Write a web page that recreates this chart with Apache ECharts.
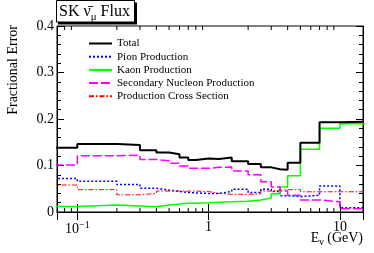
<!DOCTYPE html>
<html>
<head>
<meta charset="utf-8">
<script src="https://cdn.jsdelivr.net/npm/echarts@6/dist/echarts.min.js"></script>
<style>html,body{margin:0;padding:0;background:#fff;}#c{width:374px;height:253px;}</style>
</head>
<body>
<div id="c"></div>
<script>
// Bin edges in GeV (first bin 0-0.1 starts off-scale on the log axis)
var binEdges = [0.01, 0.1, 0.2, 0.3, 0.4, 0.5, 0.6, 0.7, 0.8, 1.0, 1.2, 1.5, 2.0, 2.5, 3.0, 3.5, 4.0, 5.0, 7.0, 10.0, 30.0];
var seriesNames = ['Total', 'Pion Production', 'Kaon Production', 'Secondary Nucleon Production', 'Production Cross Section'];
var totalErr     = [0.138, 0.146, 0.144, 0.133, 0.128, 0.124, 0.117, 0.112, 0.115, 0.114, 0.117, 0.109, 0.103, 0.096, 0.092, 0.091, 0.106, 0.149, 0.193, 0.196];
var pionErr      = [0.072, 0.066, 0.059, 0.051, 0.047, 0.044, 0.042, 0.041, 0.040, 0.040, 0.044, 0.049, 0.042, 0.049, 0.044, 0.035, 0.033, 0.036, 0.056, 0.009];
var kaonErr      = [0.012, 0.015, 0.013, 0.0115, 0.015, 0.017, 0.019, 0.019, 0.020, 0.021, 0.022, 0.023, 0.026, 0.030, 0.039, 0.054, 0.078, 0.135, 0.180, 0.190];
var secondaryErr = [0.101, 0.121, 0.122, 0.113, 0.110, 0.105, 0.099, 0.094, 0.094, 0.096, 0.097, 0.088, 0.080, 0.065, 0.054, 0.045, 0.036, 0.026, 0.022, 0.007];
var xsecErr      = [0.058, 0.048, 0.037, 0.040, 0.045, 0.045, 0.045, 0.045, 0.044, 0.040, 0.038, 0.038, 0.039, 0.045, 0.047, 0.048, 0.048, 0.0435, 0.0435, 0.0435];
var yTicks = [0, 0.1, 0.2, 0.3, 0.4];
var xMajorTicks = [0.1, 1, 10];
var xMin = 0.07, xMax = 15;

function hist(vals) {
  var d = [];
  for (var i = 0; i < vals.length; i++) d.push([binEdges[i], vals[i]]);
  d.push([binEdges[binEdges.length - 1], vals[vals.length - 1]]);
  return d;
}
// log-axis minor tick positions (k * 10^n)
var xMinorTicks = [];
[0.01, 0.1, 1, 10].forEach(function (dec) {
  for (var k = 2; k <= 9; k++) {
    var v = +(k * dec).toPrecision(6);
    if (v > xMin && v < xMax) xMinorTicks.push([v, 0]);
  }
});

var serif = '"Liberation Serif","DejaVu Serif",serif';
var chart = echarts.init(document.getElementById('c'), null, {renderer: 'canvas'});

function lineSeries(name, vals, color, width, type, z) {
  return {
    name: name, type: 'line', step: 'end', symbol: 'none', z: z,
    data: hist(vals), clip: true, animation: false,
    lineStyle: {color: color, width: width, type: type},
    itemStyle: {color: color}
  };
}

var xLabelFmt = function (v) {
  if (Math.abs(v - 0.1) < 1e-9) return '{b|10}{s|\u22121}';
  if (Math.abs(v - 1) < 1e-9) return '{b|1}';
  if (Math.abs(v - 10) < 1e-9) return '{b|10}';
  return '';
};

var option = {
  animation: false,
  backgroundColor: '#fff',
  grid: {left: 57, right: 11, top: 26, bottom: 41, show: true, borderColor: '#000', borderWidth: 1},
  legend: {
    data: seriesNames, orient: 'vertical', left: 83, top: 33,
    itemWidth: 23, itemHeight: 11, itemGap: 2.2,
    itemStyle: {opacity: 0},
    textStyle: {fontFamily: serif, fontSize: 11, color: '#000'}
  },
  xAxis: [{
    type: 'log', logBase: 10, min: xMin, max: xMax, position: 'bottom',
    axisLine: {show: true, lineStyle: {color: '#000', width: 1}},
    axisTick: {show: true, inside: true, length: 8, lineStyle: {color: '#000'}},
    minorTick: {show: false},
    splitLine: {show: false},
    axisLabel: {
      showMinLabel: false, showMaxLabel: false, margin: 8, color: '#000',
      formatter: xLabelFmt,
      rich: {b: {fontFamily: serif, fontSize: 14, color: '#000'},
             s: {fontFamily: serif, fontSize: 10, color: '#000', verticalAlign: 'bottom', padding: [0, 0, 8, 0]}}
    }
  }, {
    type: 'log', logBase: 10, min: xMin, max: xMax, position: 'top',
    axisLine: {show: true, lineStyle: {color: '#000', width: 1}},
    axisTick: {show: true, inside: true, length: 8, lineStyle: {color: '#000'}},
    axisLabel: {show: false}, splitLine: {show: false}
  }],
  yAxis: [{
    type: 'value', min: 0, max: 0.4, interval: 0.1, position: 'left',
    axisLine: {show: true, lineStyle: {color: '#000', width: 1}},
    axisTick: {show: true, inside: true, length: 7, lineStyle: {color: '#000'}},
    minorTick: {show: true, splitNumber: 5, length: 4, lineStyle: {color: '#000'}},
    splitLine: {show: false},
    axisLabel: {margin: 3, color: '#000', fontFamily: serif, fontSize: 14,
      formatter: function (v) { return String(+v.toFixed(2)); }}
  }, {
    type: 'value', min: 0, max: 0.4, interval: 0.1, position: 'right',
    axisLine: {show: true, lineStyle: {color: '#000', width: 1}},
    axisTick: {show: true, inside: true, length: 7, lineStyle: {color: '#000'}},
    minorTick: {show: true, splitNumber: 5, length: 4, lineStyle: {color: '#000'}},
    splitLine: {show: false}, axisLabel: {show: false}
  }],
  series: [
    lineSeries(seriesNames[0], totalErr, '#000000', 2, 'solid', 5),
    lineSeries(seriesNames[1], pionErr, '#0000ff', 1.5, [2, 2], 4),
    lineSeries(seriesNames[2], kaonErr, '#00ff00', 1.5, 'solid', 4),
    lineSeries(seriesNames[3], secondaryErr, '#ff00ff', 1.5, [9, 3], 4),
    lineSeries(seriesNames[4], xsecErr, '#ff0000', 1, [5, 2, 1.5, 2], 4),
    {
      type: 'custom', name: 'minorTicks', data: xMinorTicks, z: 6, silent: true,
      encode: {x: 0, y: 1},
      renderItem: function (params, api) {
        var v = api.value(0);
        var b = api.coord([v, 0]);
        var t = api.coord([v, 0.4]);
        return {type: 'group', children: [
          {type: 'line', shape: {x1: b[0], y1: b[1], x2: b[0], y2: b[1] - 4}, style: {stroke: '#000', lineWidth: 1}},
          {type: 'line', shape: {x1: t[0], y1: t[1], x2: t[0], y2: t[1] + 4}, style: {stroke: '#000', lineWidth: 1}}
        ]};
      }
    }
  ],
  graphic: [
    {type: 'rect', z: 100, shape: {x: 58, y: 2.5, width: 79, height: 22}, style: {fill: '#000'}},
    {type: 'rect', z: 101, shape: {x: 56.5, y: 0.5, width: 78, height: 21.5}, style: {fill: '#fff', stroke: '#000', lineWidth: 1}},
    {type: 'text', z: 102, x: 59, y: 12, style: {
      text: '{a|SK \u03BD\u0304}{u|\u03BC}{a| Flux}', verticalAlign: 'middle',
      rich: {a: {fontFamily: serif, fontSize: 16, fill: '#000'},
             u: {fontFamily: serif, fontSize: 11, fill: '#000', verticalAlign: 'top', padding: [10, 0, 0, 0]}}
    }},
    {type: 'text', z: 100, x: 13, y: 25, rotation: Math.PI / 2, style: {
      text: 'Fractional Error', fontFamily: serif, fontSize: 14, fill: '#000',
      align: 'right', verticalAlign: 'middle'
    }},
    {type: 'text', z: 100, x: 363, y: 238, style: {
      text: '{a|E}{u|\u03BD}{a| (GeV)}', align: 'right', verticalAlign: 'middle',
      rich: {a: {fontFamily: serif, fontSize: 14, fill: '#000'},
             u: {fontFamily: serif, fontSize: 10, fill: '#000', verticalAlign: 'top', padding: [8, 0, 0, 0]}}
    }}
  ]
};
chart.setOption(option);
</script>
</body>
</html>
